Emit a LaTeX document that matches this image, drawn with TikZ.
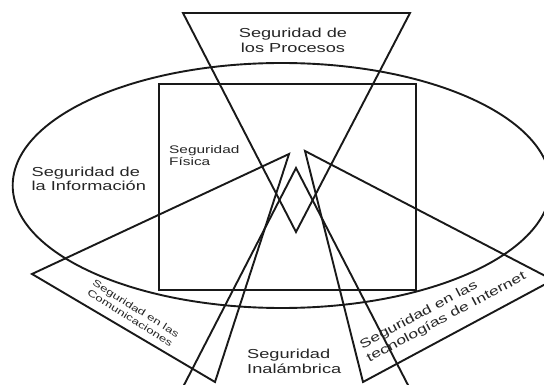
\documentclass[tikz,border=0pt]{standalone}
\usepackage{fontspec}
\newfontfamily\lbl[FakeStretch=1.4]{Liberation Sans}
\begin{document}
\begin{tikzpicture}[x=1pt,y=-1pt,
  outline/.style={draw=black!90, line width=1.9pt, line join=miter},
  lab/.style={inner sep=0pt, text=black!85}]
\useasboundingbox (0,0) rectangle (544,385);
\fill[white] (0,0) rectangle (544,385);
\begin{scope}
\clip (0,0) rectangle (544,385);
% Seguridad de la Informacion (ellipse)
\draw[outline] (281.7,185.5) ellipse [x radius=269, y radius=122.5];
% Seguridad Fisica (square)
\draw[outline] (159,84) rectangle (416,290);
% Seguridad de los Procesos
\draw[outline] (183,13) -- (410,13) -- (296,232) -- cycle;
% Seguridad en las Comunicaciones
\draw[outline] (289,154) -- (32,274) -- (215,382) -- cycle;
% Seguridad en las tecnologias de Internet
\draw[outline] (305,151) -- (553,280) -- (363,382) -- cycle;
% Seguridad Inalambrica
\draw[outline] (296,168) -- (415.7,400) -- (176.3,400) -- cycle;
\end{scope}
\node[lab, align=center, font={\lbl\fontsize{13}{15}\selectfont}] (proc) at (293,40) {Seguridad de\\los Procesos};
\node[lab, align=left, anchor=west, font={\lbl\fontsize{13}{14}\selectfont}] (info) at (31.5,179) {Seguridad de\\la Información};
\node[lab, align=left, anchor=west, font={\lbl\fontsize{11}{12}\selectfont}] (fis) at (169,156) {Seguridad\\Física};
\node[lab, align=left, anchor=west, font={\lbl\fontsize{13}{15}\selectfont}] (inal) at (247,361) {Seguridad\\Inalámbrica};
\node[lab, align=center, rotate=-32, font={\lbl\fontsize{9.5}{11}\selectfont}] (com) at (133,313) {Seguridad en las\\Comunicaciones};
\node[lab, align=left, rotate=28, font={\lbl\fontsize{12.5}{15}\selectfont}] (inet) at (443,311) {Seguridad en las\\tecnologías de Internet};
\end{tikzpicture}
\end{document}
